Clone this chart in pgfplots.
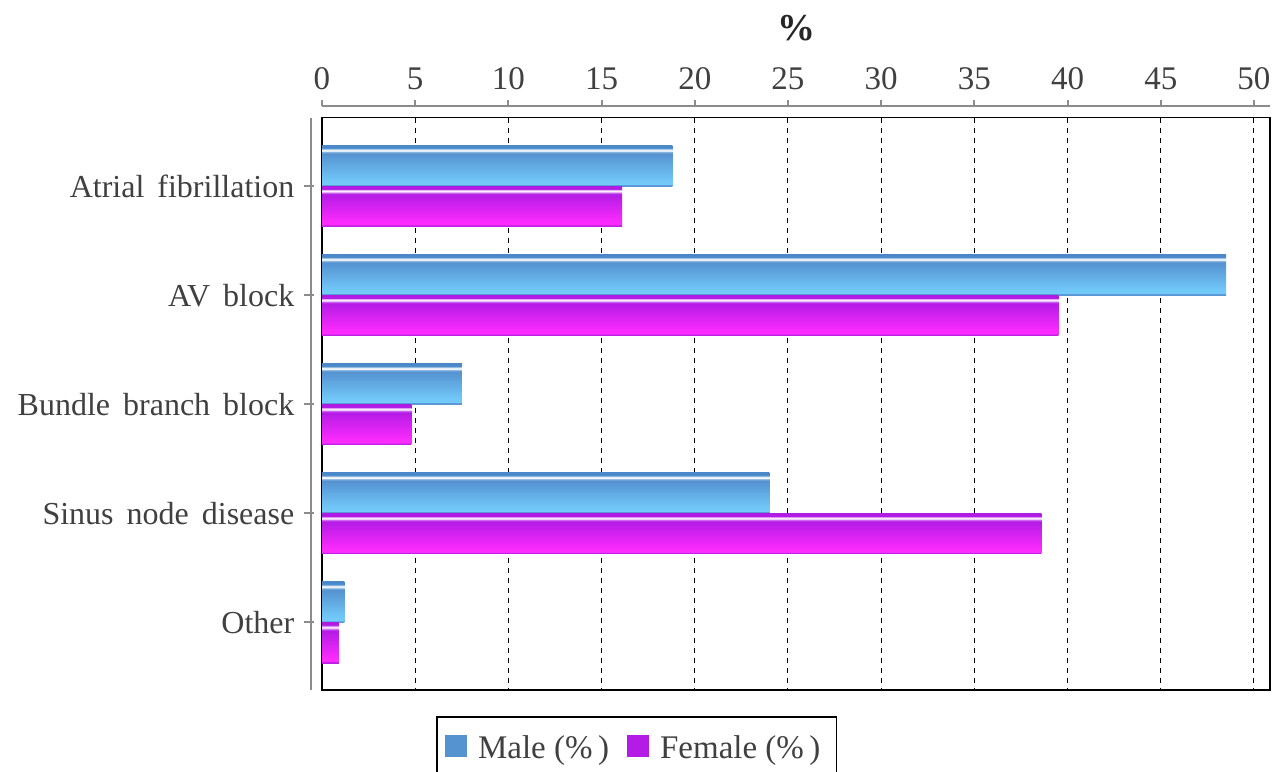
\documentclass[border=0pt]{standalone}
\usepackage{pgfplots}
\pgfplotsset{compat=1.18}
\usepackage{fontspec}
\setmainfont{Liberation Serif}

\definecolor{txt}{HTML}{404040}
\definecolor{axgray}{HTML}{8C8C8C}
\definecolor{malefill}{HTML}{5592D0}
\definecolor{femalefill}{HTML}{B41CE6}

% glossy bar shadings; the bar itself covers 25bp (bottom) to 75bp (top)
\definecolor{mA}{HTML}{5A98D6}
\definecolor{mB}{HTML}{74CCFA}
\definecolor{mC}{HTML}{70C6F7}
\definecolor{mD}{HTML}{5592D0}
\definecolor{mE}{HTML}{8AB4DE}
\definecolor{mF}{HTML}{D8E6F4}
\definecolor{mG}{HTML}{4A88CA}
\definecolor{fA}{HTML}{C020E6}
\definecolor{fB}{HTML}{FF2EFF}
\definecolor{fC}{HTML}{F82AFC}
\definecolor{fD}{HTML}{B41CE6}
\definecolor{fE}{HTML}{D070F0}
\definecolor{fF}{HTML}{F0C8F8}
\definecolor{fG}{HTML}{B01CE4}
\pgfdeclareverticalshading{maleshade}{100bp}{%
  color(0bp)=(mA); color(25bp)=(mA); color(27bp)=(mA); color(27.5bp)=(mB); color(32.5bp)=(mC);
  color(65bp)=(mD); color(67bp)=(mE); color(68.5bp)=(white); color(70bp)=(mF);
  color(71.5bp)=(mD); color(72.5bp)=(mG); color(75bp)=(mG); color(100bp)=(mG)}
\pgfdeclareverticalshading{femaleshade}{100bp}{%
  color(0bp)=(fA); color(25bp)=(fA); color(27bp)=(fA); color(27.5bp)=(fB); color(32.5bp)=(fC);
  color(65bp)=(fD); color(67bp)=(fE); color(68.5bp)=(white); color(70bp)=(fF);
  color(71.5bp)=(fD); color(72.5bp)=(fG); color(75bp)=(fG); color(100bp)=(fG)}

% plain square legend swatch, filled at pgf level so the bar shading is not used
\newcommand\swatch[1]{%
  \pgfpathrectangle{\pgfpoint{0pt}{-4pt}}{\pgfpoint{11pt}{11pt}}%
  \pgfsetfillcolor{#1}\pgfusepath{fill}}

\tikzset{greytick/.style={axgray, line width=1pt}}

\pgfplotsset{
  malebar/.style={xbar, draw=none, shade, shading=maleshade, bar width=0.373, bar shift=-0.1865,
    legend image code/.code={\swatch{malefill}}},
  femalebar/.style={xbar, draw=none, shade, shading=femaleshade, bar width=0.373, bar shift=0.1865,
    legend image code/.code={\swatch{femalefill}}},
  % shared geometry of the plot area
  frame/.style={scale only axis, width=474pt, height=286.15pt,
    xmin=0, xmax=50.86, ymin=-0.627, ymax=4.62, y dir=reverse},
  greyaxis/.style={axis line style={axgray, line width=1pt, -},
    major tick length=0pt, clip=false,
    tick label style={text=txt}},
}
% wider word spacing for the category names
\newcommand\catfont{\fontsize{16}{20}\selectfont\spaceskip=6.5pt plus 1pt\relax}

\begin{document}
\begin{tikzpicture}
% plot area: frame, dashed grid, bars, title and legend
\begin{axis}[
  frame,
  clip=false,
  xtick={0,5,...,50}, xticklabels={},
  ytick=\empty,
  major tick length=0pt,
  xmajorgrids,
  grid style={black, line width=0.5pt, dash pattern=on 2.5pt off 2.5pt},
  axis line style={black, line width=0.75pt},
  title={\textbf{\%}},
  title style={at={(0.5,1)}, anchor=base, inner sep=0pt, yshift=32.5pt,
    text=black!85, font=\fontsize{19}{22}\selectfont},
  legend columns=2,
  legend style={at={(0.332,-0.045)}, anchor=north, draw=black, line width=0.9pt,
    text=txt, font=\fontsize{16.5}{20}\selectfont,
    inner xsep=4pt, inner ysep=7.5pt,
    nodes={inner xsep=4pt},
    /tikz/every odd column/.append style={column sep=1.5pt},
    /tikz/every even column/.append style={column sep=5pt}},
]
% one plot per bar, so that each bar carries its own glossy shading
\addplot[malebar]   coordinates {(18.8,0)};
\addplot[femalebar] coordinates {(16.1,0)};
\addplot[malebar, forget plot]   coordinates {(48.5,1)};
\addplot[femalebar, forget plot] coordinates {(39.5,1)};
\addplot[malebar, forget plot]   coordinates {(7.5,2)};
\addplot[femalebar, forget plot] coordinates {(4.8,2)};
\addplot[malebar, forget plot]   coordinates {(24.0,3)};
\addplot[femalebar, forget plot] coordinates {(38.6,3)};
\addplot[malebar, forget plot]   coordinates {(1.2,4)};
\addplot[femalebar, forget plot] coordinates {(0.9,4)};
\legend{Male (\%\,), Female (\%\,)}
\end{axis}

% detached grey value axis above the frame (y from 0 to 1 over 291.9pt)
\begin{axis}[
  frame, height=291.9pt, ymin=0, ymax=1, y dir=normal,
  greyaxis,
  axis x line*=top, axis y line=none,
  xtick={0,5,...,50},
  /pgf/number format/assume math mode=true,
  xticklabel style={anchor=base, inner sep=0pt, yshift=8.25pt, font=\fontsize{16.5}{20}\selectfont},
]
\pgfplotsinvokeforeach{0,5,10,15,20,25,30,35,40,45,50}{
  \draw[greytick] (axis cs:#1,1) -- (axis cs:#1,1.0111);
}
\end{axis}

% detached grey category axis left of the frame (x from 0 to 50.86 over 479.65pt)
\begin{axis}[
  frame, at={(-5.65pt,0)}, width=479.65pt,
  greyaxis,
  axis y line*=left, axis x line=none,
  ytick={0,1,2,3,4},
  yticklabels={\catfont Atrial fibrillation, \catfont AV block, \catfont Bundle branch block,
    \catfont Sinus node disease, \catfont Other},
  yticklabel style={anchor=east, inner sep=0pt, xshift=-8pt},
]
\pgfplotsinvokeforeach{0,1,2,3,4}{
  \draw[greytick] (axis cs:-0.345,#1) -- (axis cs:0.16,#1);
}
\end{axis}

\pgfresetboundingbox
\useasboundingbox (-161pt,-40.5pt) rectangle (475.5pt,345pt);
\end{tikzpicture}
\end{document}
